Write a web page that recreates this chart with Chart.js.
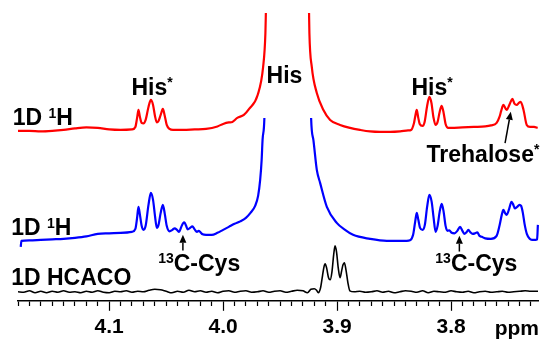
<!DOCTYPE html>
<html>
<head>
<meta charset="utf-8">
<script src="https://cdn.jsdelivr.net/npm/chart.js@4.4.1/dist/chart.umd.min.js"></script>
<style>
  html, body { margin: 0; padding: 0; background: #fff; overflow: hidden; }
  #chart { display: block; }
</style>
</head>
<body>
<canvas id="chart" width="541" height="339"></canvas>
<script>
// chemical shift (ppm) / intensity (a.u.)

// 1D 1H, top trace (red)
const redPpm = [
  4.1800, 4.1700, 4.1600, 4.1500, 4.1400, 4.1300, 4.1200, 4.1100, 4.1000, 4.0900,
  4.0800, 4.0770, 4.0755, 4.0743, 4.0730, 4.0715, 4.0699, 4.0680, 4.0655, 4.0634,
  4.0615, 4.0598, 4.0582, 4.0567, 4.0548, 4.0529, 4.0512, 4.0495, 4.0470, 4.0440,
  4.0350, 4.0250, 4.0150, 4.0050, 4.0000, 3.9950, 3.9919, 3.9876, 3.9818, 3.9772,
  3.9697, 3.9649, 3.9629, 3.9625, 3.9618, 3.9550, 3.9434, 3.9320, 3.9252, 3.9246,
  3.9243, 3.9222, 3.9178, 3.9120, 3.9061, 3.8974, 3.8886, 3.8798, 3.8711, 3.8623,
  3.8535, 3.8447, 3.8377, 3.8351, 3.8325, 3.8312, 3.8301, 3.8289, 3.8275, 3.8250,
  3.8232, 3.8210, 3.8190, 3.8172, 3.8155, 3.8136, 3.8118, 3.8100, 3.8082, 3.8065,
  3.8048, 3.8025, 3.8000, 3.7900, 3.7800, 3.7700, 3.7650, 3.7600, 3.7575, 3.7560,
  3.7541, 3.7512, 3.7485, 3.7462, 3.7442, 3.7424, 3.7405, 3.7389, 3.7364, 3.7336,
  3.7307, 3.7272, 3.7240
];
const redIntensity = [
  0, 0, -0.5, 0, 1, 2.5, 3.5, 3, 1.5, 1,
  1.5, 4, 13, 21, 14, 8, 7.5, 11, 24, 31,
  26, 15, 8.5, 10, 16, 22, 15, 6, 2, 1,
  1, 1.5, 2, 4.5, 7, 8.5, 9, 13, 16, 22,
  36, 64, 98, 118, 160, 350, 900, 350, 160, 118,
  98, 64, 38, 21, 11, 6, 3, 1, -0.5, -1,
  -1, -0.5, 0.5, 1, 8, 16, 21, 14, 7, 5,
  9, 25, 34, 28, 14, 6, 9, 19, 25, 18,
  7, 3, 3, 3.5, 4, 4.5, 5.5, 8, 14, 20,
  26, 21, 27, 32, 27, 26, 28, 29, 21, 6,
  4, 4, 3
];

// 1D 1H, middle trace (blue)
const bluePpm = [
  4.1776, 4.1770, 4.1700, 4.1600, 4.1500, 4.1400, 4.1300, 4.1200, 4.1100, 4.1000,
  4.0900, 4.0800, 4.0770, 4.0755, 4.0743, 4.0730, 4.0715, 4.0699, 4.0680, 4.0655,
  4.0634, 4.0615, 4.0598, 4.0582, 4.0567, 4.0548, 4.0529, 4.0512, 4.0495, 4.0470,
  4.0445, 4.0425, 4.0405, 4.0386, 4.0367, 4.0352, 4.0340, 4.0325, 4.0310, 4.0290,
  4.0270, 4.0250, 4.0230, 4.0215, 4.0198, 4.0180, 4.0150, 4.0100, 4.0050, 4.0000,
  3.9950, 3.9900, 3.9850, 3.9800, 3.9760, 3.9719, 3.9693, 3.9675, 3.9662, 3.9654,
  3.9638, 3.9630, 3.9550, 3.9434, 3.9320, 3.9235, 3.9228, 3.9208, 3.9178, 3.9149,
  3.9090, 3.9003, 3.8930, 3.8860, 3.8711, 3.8564, 3.8389, 3.8360, 3.8333, 3.8315,
  3.8301, 3.8287, 3.8272, 3.8250, 3.8230, 3.8210, 3.8190, 3.8170, 3.8153, 3.8136,
  3.8118, 3.8100, 3.8082, 3.8065, 3.8048, 3.8030, 3.8015, 3.7995, 3.7970, 3.7945,
  3.7921, 3.7900, 3.7884, 3.7865, 3.7848, 3.7830, 3.7810, 3.7790, 3.7770, 3.7750,
  3.7730, 3.7700, 3.7650, 3.7600, 3.7575, 3.7555, 3.7541, 3.7527, 3.7512, 3.7490,
  3.7470, 3.7457, 3.7440, 3.7420, 3.7400, 3.7385, 3.7370, 3.7355, 3.7335, 3.7310,
  3.7290, 3.7260, 3.7245, 3.7238
];
const blueIntensity = [
  -5, 1, 1.5, 2, 2.5, 3, 4, 5.5, 8, 8.5,
  9, 10, 13, 24, 35, 27, 16, 12, 16, 37,
  49, 42, 26, 14, 17, 29, 37, 28, 16, 10.5,
  12, 13.5, 12, 10, 15, 18.5, 19.5, 16, 12.5, 14,
  15.5, 12.5, 10, 11, 9.5, 7.5, 7, 7, 9, 12,
  15, 18, 20.5, 24, 29, 36, 46, 62, 82, 102,
  124, 170, 400, 1000, 400, 170, 124, 102, 72, 59,
  35, 19, 12, 7, 3, 1, 1, 1.5, 7, 20,
  29, 22, 14, 12, 17, 35, 47, 40, 24, 10,
  16, 30, 38, 30, 16, 11, 11.5, 9, 8.5, 11,
  15, 11, 8, 9.5, 12, 9.5, 8, 8.5, 9.5, 6,
  5, 3.5, 3, 6, 16, 27, 32, 29, 27, 33,
  40, 38, 33.5, 35, 37, 36, 29, 18, 8, 3,
  2, 2, 2.5, 17
];

// 1D HCACO, bottom trace (black)
const hcacoPpm = [
  4.180, 4.175, 4.170, 4.165, 4.160, 4.155, 4.150, 4.145, 4.140, 4.135,
  4.130, 4.125, 4.120, 4.115, 4.110, 4.105, 4.100, 4.095, 4.090, 4.085,
  4.080, 4.075, 4.070, 4.065, 4.060, 4.055, 4.050, 4.045, 4.040, 4.035,
  4.030, 4.025, 4.020, 4.015, 4.010, 4.005, 4.000, 3.995, 3.990, 3.985,
  3.980, 3.975, 3.970, 3.965, 3.960, 3.955, 3.950, 3.945, 3.940, 3.935,
  3.930, 3.926, 3.923, 3.920, 3.918, 3.9165, 3.9145, 3.9128, 3.9115, 3.9105,
  3.9092, 3.9075, 3.9061, 3.9045, 3.9030, 3.9018, 3.9005, 3.8990, 3.8974, 3.8960,
  3.8948, 3.8936, 3.8922, 3.8905, 3.8888, 3.885, 3.880, 3.875, 3.870, 3.865,
  3.860, 3.855, 3.850, 3.845, 3.840, 3.835, 3.830, 3.825, 3.820, 3.815,
  3.810, 3.805, 3.800, 3.795, 3.790, 3.785, 3.780, 3.775, 3.770, 3.765,
  3.760, 3.755, 3.750, 3.745, 3.740, 3.735, 3.730, 3.7237
];
const hcacoIntensity = [
  0, -0.5, 1, -1, 0.5, -1, 0.5, -0.5, 1, -0.5,
  0, -1, 0.5, -0.5, 1, -0.5, -1, 0.5, 0, 1,
  -0.5, 0.5, 0, 1.5, 2.5, 2, 0.5, -1, 0.5, -0.5,
  1.5, 0, 1, -0.5, 0.5, -1, 0.5, 1, -0.5, 0.5,
  1, -0.5, 0, 1, -0.5, 0.5, 1, -0.5, 0.5, 1.5,
  1, -1, 2.5, 3, 1.5, -1, 4, 16, 25, 28,
  24, 14, 12, 20, 37, 46, 40, 24, 14, 21,
  27, 29, 22, 9, 1, 0, 0.5, -0.5, 0, 1,
  -0.5, 0.5, -1, 0, 1, 0.5, -0.5, 1, -1, 0.5,
  0, -0.5, 1, 0, -0.5, 0.5, -1, 0, 0.5, -0.5,
  0, 0.5, -0.5, 0, 0.5, 1, 0.5, 0.5
];

// labelled ticks of the ppm axis (minor ticks every 0.01)
const majorTicks = [4.1, 4.0, 3.9, 3.8];

const FONT = "Arial, 'Liberation Sans', sans-serif";

function toPoints(xs, ys) {
  return xs.map((x, i) => ({ x: x, y: ys[i] }));
}

function isMajor(v) {
  return majorTicks.some(m => Math.abs(m - v) < 1e-6);
}

// text labels and arrows, placed in data coordinates (ppm, intensity)
const annotations = [
  { axis: "yRed", ppm: 4.1846, y: 6, parts: [["1D ", 23, 0], ["1", 14, 7], ["H", 23, 0]] },
  { axis: "yRed", ppm: 4.0804, y: 36, parts: [["His", 23, 0], ["*", 14, 8]] },
  { axis: "yRed", ppm: 3.9619, y: 48, parts: [["His", 23, 0]] },
  { axis: "yRed", ppm: 3.8347, y: 36, parts: [["His", 23, 0], ["*", 14, 8]] },
  { axis: "yRed", ppm: 3.8215, y: -30.7, parts: [["Trehalose", 23, 0], ["*", 14, 8]] },
  { axis: "yBlue", ppm: 4.186, y: 7, parts: [["1D ", 23, 0], ["1", 14, 7], ["H", 23, 0]] },
  { axis: "yBlue", ppm: 4.057, y: -29, parts: [["13", 14, 8], ["C-Cys", 23, 0]] },
  { axis: "yBlue", ppm: 3.8138, y: -29.5, parts: [["13", 14, 8], ["C-Cys", 23, 0]] },
  { axis: "yHcaco", ppm: 4.186, y: 7, parts: [["1D HCACO", 23, 0]] }
];
const arrows = [
  { axis: "yRed", from: [3.7526, -12.3], to: [3.7476, 19.3] },
  { axis: "yBlue", from: [4.0353, -8.7], to: [4.0353, 7] },
  { axis: "yBlue", from: [3.7927, -9.7], to: [3.7927, 6] }
];

function drawRich(ctx, x, y, parts) {
  let cx = x;
  parts.forEach(([t, size, rise]) => {
    ctx.font = "bold " + size + "px " + FONT;
    ctx.fillText(t, cx, y - rise);
    cx += ctx.measureText(t).width;
  });
}

const labelPlugin = {
  id: "spectrumLabels",
  afterDatasetsDraw(chart) {
    const ctx = chart.ctx;
    const xs = chart.scales.x;
    ctx.save();
    ctx.fillStyle = "#000";
    ctx.strokeStyle = "#000";
    ctx.textBaseline = "alphabetic";
    ctx.textAlign = "left";
    annotations.forEach(a => {
      const ys = chart.scales[a.axis];
      drawRich(ctx, xs.getPixelForValue(a.ppm), ys.getPixelForValue(a.y), a.parts);
    });
    arrows.forEach(a => {
      const ys = chart.scales[a.axis];
      const x1 = xs.getPixelForValue(a.from[0]), y1 = ys.getPixelForValue(a.from[1]);
      const x2 = xs.getPixelForValue(a.to[0]), y2 = ys.getPixelForValue(a.to[1]);
      const ang = Math.atan2(y2 - y1, x2 - x1);
      const head = 8, half = 3.5;
      const bx = x2 - head * Math.cos(ang), by = y2 - head * Math.sin(ang);
      ctx.lineWidth = 1.5;
      ctx.beginPath();
      ctx.moveTo(x1, y1);
      ctx.lineTo(bx, by);
      ctx.stroke();
      ctx.beginPath();
      ctx.moveTo(x2, y2);
      ctx.lineTo(bx + half * Math.sin(ang), by - half * Math.cos(ang));
      ctx.lineTo(bx - half * Math.sin(ang), by + half * Math.cos(ang));
      ctx.closePath();
      ctx.fill();
    });
    // axis unit, on the tick label line
    ctx.font = "bold 21px " + FONT;
    ctx.textAlign = "right";
    ctx.fillText("ppm", chart.chartArea.right + 1, xs.top + 34);
    ctx.restore();
  }
};

new Chart(document.getElementById("chart"), {
  type: "line",
  data: {
    datasets: [
      {
        label: "1D 1H",
        data: toPoints(redPpm, redIntensity),
        yAxisID: "yRed",
        borderColor: "#ff0000",
        borderWidth: 2.2,
        clip: { left: 2, right: 2, top: 0, bottom: 2 }
      },
      {
        label: "1D 1H (13C-Cys)",
        data: toPoints(bluePpm, blueIntensity),
        yAxisID: "yBlue",
        borderColor: "#0000ff",
        borderWidth: 2.2,
        clip: { left: 2, right: 2, top: -105, bottom: 2 }
      },
      {
        label: "1D HCACO",
        data: toPoints(hcacoPpm, hcacoIntensity),
        yAxisID: "yHcaco",
        borderColor: "#000000",
        borderWidth: 1.6
      }
    ]
  },
  options: {
    responsive: false,
    animation: false,
    devicePixelRatio: 1,
    layout: { padding: { left: 18, right: 3, top: 13, bottom: -5 } },
    elements: {
      point: { radius: 0 },
      line: { cubicInterpolationMode: "monotone", fill: false }
    },
    plugins: {
      legend: { display: false },
      tooltip: { enabled: false }
    },
    scales: {
      x: {
        type: "linear",
        reverse: true,
        min: 3.7237,
        max: 4.18,
        border: { display: true, color: "#000", width: 1.5 },
        grid: {
          display: true,
          drawOnChartArea: false,
          tickLength: 10,
          tickColor: "#000",
          tickWidth: 1.2,
          tickBorderDash: ctx => (ctx.tick && isMajor(ctx.tick.value)) ? [] : [4.5, 20]
        },
        ticks: {
          stepSize: 0.01,
          includeBounds: false,
          autoSkip: false,
          maxTicksLimit: 100,
          maxRotation: 0,
          padding: 4,
          color: "#000",
          font: { family: FONT, size: 21, weight: "bold" },
          callback: v => isMajor(v) ? v.toFixed(1) : ""
        }
      },
      yRed: { display: false, min: -170, max: 118 },
      yBlue: { display: false, min: -59, max: 229 },
      yHcaco: { display: false, min: -9, max: 279 }
    }
  },
  plugins: [labelPlugin]
});
</script>
</body>
</html>
